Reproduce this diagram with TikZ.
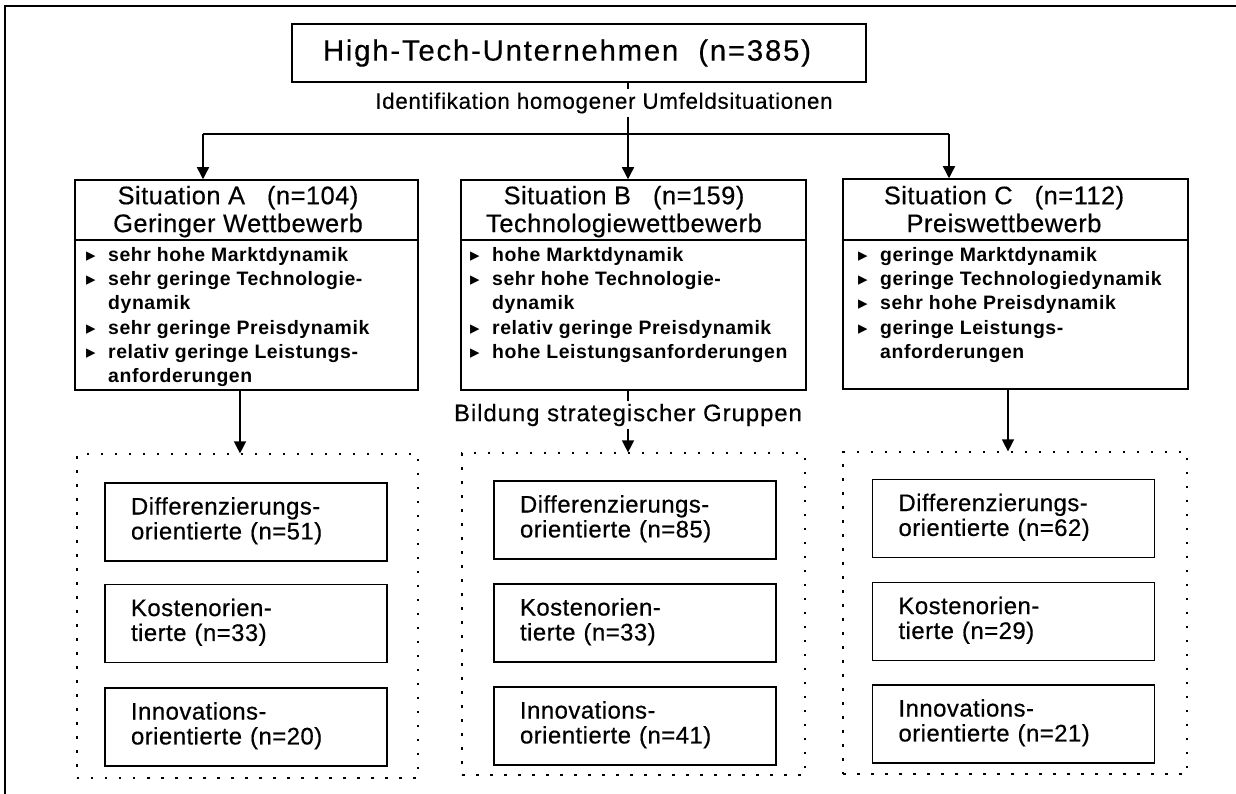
\documentclass[tikz,border=0pt]{standalone}
\usepackage{fontspec}
\setmainfont{Liberation Sans}
\newfontfamily\symf{DejaVu Sans}
\newfontfamily\fTitle[LetterSpace=6,FakeBold=0.4]{Liberation Sans}
\newfontfamily\fHead[LetterSpace=2,FakeBold=0.4]{Liberation Sans}
\newfontfamily\fLab[LetterSpace=3,FakeBold=0.4]{Liberation Sans}
\newfontfamily\fLabB[LetterSpace=4,FakeBold=0.4]{Liberation Sans}
\newfontfamily\fGrp[LetterSpace=2,FakeBold=0.5]{Liberation Sans}
\newfontfamily\fBul[LetterSpace=3]{Liberation Sans}
\usetikzlibrary{arrows.meta}
\newcommand\bl{\strut\makebox[24bp][l]{\hspace{2bp}{\symf\fontsize{19}{19}\selectfont ▸}}}
\newcommand\ind{\strut\hspace*{24bp}}
\begin{document}
\begin{tikzpicture}[x=1bp,y=-1bp,
  box/.style={draw, line width=1.5bp, inner sep=0},
  arr/.style={line width=1.4bp, -{Triangle[width=12bp,length=12bp]}},
  ln/.style={line width=1.4bp},
  grp/.style={draw, line width=1.2bp, dash pattern=on 2.5bp off 11.5bp, inner sep=0},
  sub/.style={draw, line width=1.5bp, text width=230bp, inner xsep=26bp, inner ysep=0, minimum height=78bp, align=left, font=\fGrp\fontsize{24}{25}\selectfont},
  hd/.style={inner sep=0, align=center, anchor=north, font=\fHead\fontsize{25.5}{28}\selectfont},
  bd/.style={inner sep=0, align=left, anchor=north west, font=\fBul\bfseries\fontsize{19.5}{24.4}\selectfont},
  lab/.style={inner sep=0, minimum height=27bp, font=\fLab\fontsize{22.5}{24}\selectfont}]
\useasboundingbox (0,0) rectangle (1236,794);
\fill[white] (0,0) rectangle (1236,794);
% frame
\coordinate (f1) at (1236,6);
\coordinate (f2) at (5,6);
\coordinate (f3) at (5,794);
\draw[ln] (f1) -- (f2) -- (f3);
% top
\node[box, minimum width=574bp, minimum height=58bp, font=\fTitle\fontsize{29.5}{32}\selectfont] (top) at (579,53) {High-Tech-Unternehmen\hspace{20bp}(n=385)\kern24bp};
\node[lab] (lab1) at (604,103) {Identifikation homogener Umfeldsituationen};
\coordinate (jA) at (203,134);
\coordinate (jB) at (628,134);
\coordinate (jC) at (949,134);
\coordinate (cA) at (240,0);
\coordinate (cC) at (1008,0);
% situation boxes
\node[box, minimum width=343bp, minimum height=210bp] (sitA) at (246.5,285) {};
\node[box, minimum width=345bp, minimum height=210bp] (sitB) at (633.5,285) {};
\node[box, minimum width=345bp, minimum height=210bp] (sitC) at (1015.5,284) {};
\coordinate (sep) at (0,240);
\draw[box] (sitA.west |- sep) -- (sitA.east |- sep);
\draw[box] (sitB.west |- sep) -- (sitB.east |- sep);
\draw[box] (sitC.west |- sep) -- (sitC.east |- sep);
\node[hd] (hA) at (238,184.5) {\strut Situation A\hspace{22bp}(n=104)\\\strut Geringer Wettbewerb};
\node[hd] (hB) at (624,184.5) {\strut Situation B\hspace{22bp}(n=159)\\\strut Technologiewettbewerb};
\node[hd] (hC) at (1004,184.5) {\strut Situation C\hspace{22bp}(n=112)\\\strut Preiswettbewerb};
\node[bd] (bA) at (84,244) {\bl sehr hohe Marktdynamik\\\bl sehr geringe Technologie-\\\ind dynamik\\\bl sehr geringe Preisdynamik\\\bl relativ geringe Leistungs-\\\ind anforderungen};
\node[bd] (bB) at (468,244) {\bl hohe Marktdynamik\\\bl sehr hohe Technologie-\\\ind dynamik\\\bl relativ geringe Preisdynamik\\\bl hohe Leistungsanforderungen};
\node[bd] (bC) at (856,244) {\bl geringe Marktdynamik\\\bl geringe Technologiedynamik\\\bl sehr hohe Preisdynamik\\\bl geringe Leistungs-\\\ind anforderungen};
% label 2
\node[lab, font=\fLabB\fontsize{24}{24}\selectfont] (lab2) at (628,415) {Bildung strategischer Gruppen};
% group containers
\node[grp, minimum width=341bp, minimum height=324bp] (gA) at (247.5,616) {};
\node[grp, minimum width=343bp, minimum height=322bp] (gB) at (633.5,614) {};
\node[grp, minimum width=344bp, minimum height=322bp] (gC) at (1015,613) {};
% sub boxes
\node[sub] (a1) at (246,522) {\strut Differenzierungs-\\\strut orientierte (n=51)};
\node[sub] (a2) at (246,623.5) {\strut Kostenorien-\\\strut tierte (n=33)};
\node[sub] (a3) at (246,727) {\strut Innovations-\\\strut orientierte (n=20)};
\node[sub] (b1) at (635,520) {\strut Differenzierungs-\\\strut orientierte (n=85)};
\node[sub] (b2) at (635,623) {\strut Kostenorien-\\\strut tierte (n=33)};
\node[sub] (b3) at (635,726) {\strut Innovations-\\\strut orientierte (n=41)};
\node[sub] (c1) at (1013.5,518.5) {\strut Differenzierungs-\\\strut orientierte (n=62)};
\node[sub] (c2) at (1013.5,621.5) {\strut Kostenorien-\\\strut tierte (n=29)};
\node[sub] (c3) at (1013.5,724) {\strut Innovations-\\\strut orientierte (n=21)};
% connectors
\draw[ln] (top.south -| jB) -- (lab1.north -| jB);
\draw[ln] (lab1.south -| jB) -- (jB);
\draw[ln] (jA) -- (jC);
\draw[arr] (jA) -- (jA |- sitA.north);
\draw[arr] (jB) -- (jB |- sitB.north);
\draw[arr] (jC) -- (jC |- sitC.north);
\draw[arr] (sitA.south -| cA) -- (gA.north -| cA);
\draw[ln] (sitB.south -| jB) -- (lab2.north -| jB);
\draw[arr] (lab2.south -| jB) -- (gB.north -| jB);
\draw[arr] (sitC.south -| cC) -- (gC.north -| cC);
\end{tikzpicture}
\end{document}
